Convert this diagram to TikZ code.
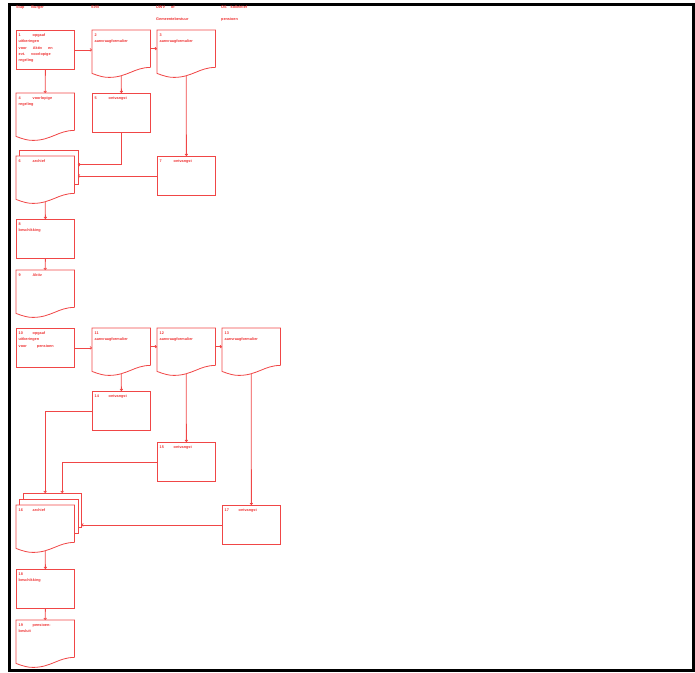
\documentclass[tikz,border=0pt]{standalone}
\usepackage{fontspec}
\setmainfont{Liberation Sans}
\usetikzlibrary{arrows.meta,calc}

\definecolor{boxred}{RGB}{240,70,70}
\definecolor{textred}{RGB}{238,50,50}
\newcommand{\boxfont}{\fontsize{3.8}{6.3}\selectfont\bfseries}
\newcommand{\nr}[1]{\makebox[14pt][l]{#1}}

\tikzset{
  boxline/.style={color=boxred, line width=0.8pt},
  box/.style={boxline, draw, anchor=north west, minimum width=58pt, minimum height=39pt, inner sep=0pt},
  docbox/.style={anchor=north west, minimum width=58pt, minimum height=37pt, inner sep=0pt},
  txt/.style={anchor=north west, align=left, inner sep=0pt, font=\boxfont, text=textred, xshift=2.5pt, yshift=-3.5pt},
  head/.style={anchor=north west, align=left, inner sep=0pt, font=\boxfont, text=textred},
  conn/.style={boxline, -{To[length=2.2pt,width=3.2pt]}}
}

% document outline with wavy bottom
\newcommand{\docline}[1]{\draw[boxline] (#1.south east) -- (#1.north east) -- (#1.north west) -- ([yshift=-6pt]#1.south west)
  .. controls ([xshift=8pt,yshift=-9pt]#1.south west) and ([xshift=12pt,yshift=-10pt]#1.south west) .. ([xshift=17pt,yshift=-10pt]#1.south west)
  .. controls ([xshift=35pt,yshift=-10pt]#1.south west) and ([xshift=-16pt]#1.south east) .. (#1.south east);}
% visible part of a sheet lying behind another
\newcommand{\layer}[2]{\draw[boxline] (#1.west |- #2.north) -- (#1.north west) -- (#1.north east) -- ([yshift=3pt]#1.south east) -- ++(-3.5pt,0);}

\begin{document}
\begin{tikzpicture}[x=1pt,y=-1pt]
\useasboundingbox (0,0) rectangle (695,672);
\draw[black, line width=3pt] (9.5,4.5) rectangle (693.5,670.5);

\node[head] (h1) at (16,5.5) {Stap\hspace{7pt}Burger};
\node[head] (h2) at (91,5.5) {SVB};
\node[head] (h3) at (156,5.5) {UWV\hspace{6pt}of\\[5.5pt]Gemeentebestuur};
\node[head] (h4) at (221,5.5) {OS\hspace{4pt}kollektief\\[5.5pt]pensioen};

% first part
\node[box, label={[txt]north west:{\nr{1}opgaaf\\uitkeringen\\voor\hspace{6pt}Aktiv\hspace{6pt}en\\evt.\hspace{6pt}voorlopige\\regeling}}] (b1) at (16,30) {};
\node[docbox, label={[txt]north west:{2\\aanvraagformulier}}] (d2) at (92,30) {};
\node[docbox, label={[txt]north west:{3\\aanvraagformulier}}] (d3) at (157,30) {};
\node[docbox, label={[txt]north west:{\nr{4}voorlopige\\regeling}}] (d4) at (16,93) {};
\node[box, label={[txt]north west:{\nr{5}ontvangst}}] (b5) at (92,93) {};
\node[docbox] (d6b) at (19.5,150) {};
\node[docbox, label={[txt]north west:{\nr{6}archief}}] (d6) at (16,156) {};
\node[box, label={[txt]north west:{\nr{7}ontvangst}}] (b7) at (157,156) {};
\node[box, label={[txt]north west:{8\\beschikking}}] (b8) at (16,219) {};
\node[docbox, label={[txt]north west:{\nr{9}Aktiv}}] (d9) at (16,270) {};

\docline{d2} \docline{d3} \docline{d4} \docline{d6} \docline{d9}
\layer{d6b}{d6}

\draw[conn] (b1.east) -- (b1.east -| d2.west);
\draw[conn] (d2.east) -- (d3.west);
\draw[conn] (b1.south) -- (d4.north);
\draw[conn] ([yshift=-8.5pt]d2.south) -- (b5.north);
\draw[conn] ([yshift=-8.5pt]d3.south) -- (b7.north);
\draw[conn] (b5.south) |- ([yshift=4pt]d6b.east);
\draw[conn] (b7.west) -- (b7.west -| d6b.east);
\draw[conn] ([yshift=-8.5pt]d6.south) -- (b8.north);
\draw[conn] (b8.south) -- (d9.north);

% second part
\node[box, label={[txt]north west:{\nr{10}opgaaf\\uitkeringen\\voor\hspace{10pt}pensioen}}] (b10) at (16,328) {};
\node[docbox, label={[txt]north west:{11\\aanvraagformulier}}] (d11) at (92,328) {};
\node[docbox, label={[txt]north west:{12\\aanvraagformulier}}] (d12) at (157,328) {};
\node[docbox, label={[txt]north west:{13\\aanvraagformulier}}] (d13) at (222,328) {};
\node[box, label={[txt]north west:{\nr{14}ontvangst}}] (b14) at (92,391) {};
\node[box, label={[txt]north west:{\nr{15}ontvangst}}] (b15) at (157,442) {};
\node[docbox] (d16c) at (23,493) {};
\node[docbox] (d16b) at (19.5,499) {};
\node[docbox, label={[txt]north west:{\nr{16}archief}}] (d16) at (16,505) {};
\node[box, label={[txt]north west:{\nr{17}ontvangst}}] (b17) at (222,505) {};
\node[box, label={[txt]north west:{18\\beschikking}}] (b18) at (16,569) {};
\node[docbox, label={[txt]north west:{\nr{19}pensioen-\\besluit}}] (d19) at (16,620) {};

\docline{d11} \docline{d12} \docline{d13} \docline{d16} \docline{d19}
\layer{d16c}{d16b}
\layer{d16b}{d16}

\draw[conn] (b10.east) -- (b10.east -| d11.west);
\draw[conn] (d11.east) -- (d12.west);
\draw[conn] (d12.east) -- (d13.west);
\draw[conn] ([yshift=-8.5pt]d11.south) -- (b14.north);
\draw[conn] ([yshift=-8.5pt]d12.south) -- (b15.north);
\draw[conn] ([yshift=-8.5pt]d13.south) -- (b17.north);
\draw[conn] (b14.west) -| (d16.north |- d16c.north);
\draw[conn] (b15.west) -| ([xshift=10pt]d16c.north);
\draw[conn] (b17.west) -- (b17.west -| d16c.east);
\draw[conn] ([yshift=-8.5pt]d16.south) -- (b18.north);
\draw[conn] (b18.south) -- (d19.north);
\end{tikzpicture}
\end{document}
